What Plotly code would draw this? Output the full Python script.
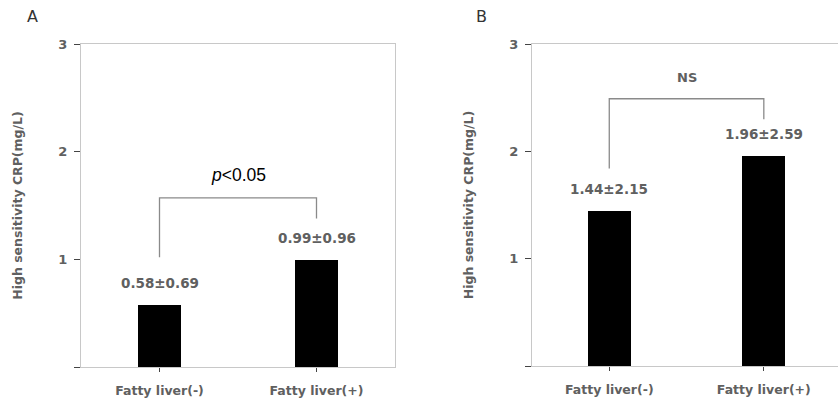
import plotly.graph_objects as go

categories = ["Fatty liver(-)", "Fatty liver(+)"]
values_a = [0.58, 0.99]
labels_a = ["0.58±0.69", "0.99±0.96"]
values_b = [1.44, 1.96]
labels_b = ["1.44±2.15", "1.96±2.59"]
bracket_a_top = 1.57
bracket_a_legs = [1.02, 1.38]
bracket_b_top = 2.49
bracket_b_legs = [1.84, 2.30]
sig_a = "<i>p</i>&lt;0.05"
sig_b = "NS"
ytitle = "High sensitivity CRP(mg/L)"
yticks = [0, 1, 2, 3]
yticktext = ["", "1", "2", "3"]

BOLD = "DejaVu Sans"
GRAY = "#606060"

fig = go.Figure()
xidx = [0, 1]

for vals, ax, ay in [(values_a, "x", "y"), (values_b, "x2", "y2")]:
    fig.add_trace(go.Bar(x=xidx, y=vals, width=0.28, marker=dict(color="black", line=dict(width=0)),
                         xaxis=ax, yaxis=ay, showlegend=False, hoverinfo="skip"))

for top, legs, ax, ay in [(bracket_a_top, bracket_a_legs, "x", "y"), (bracket_b_top, bracket_b_legs, "x2", "y2")]:
    fig.add_trace(go.Scatter(x=[0, 0, 1, 1], y=[legs[0], top, top, legs[1]], mode="lines",
                             line=dict(color="#8a8a8a", width=1.3), xaxis=ax, yaxis=ay,
                             showlegend=False, hoverinfo="skip"))

ann = []
for vals, labs, xr, yr in [(values_a, labels_a, "x", "y"), (values_b, labels_b, "x2", "y2")]:
    for i, (v, t) in enumerate(zip(vals, labs)):
        ann.append(dict(x=i, y=v, xref=xr, yref=yr, text="<b>" + t + "</b>", showarrow=False,
                        yanchor="middle", yshift=22,
                        font=dict(family=BOLD, size=13.5, color=GRAY)))
ann.append(dict(x=0.5, y=bracket_a_top, xref="x", yref="y", text=sig_a, showarrow=False, yanchor="middle",
                yshift=23, font=dict(family="Liberation Sans", size=17.5, color="black")))
ann.append(dict(x=0.5, y=bracket_b_top, xref="x2", yref="y2", text="<b>" + sig_b + "</b>", showarrow=False,
                yanchor="middle", yshift=21, font=dict(family=BOLD, size=13, color=GRAY)))
ann.append(dict(x=32 / 838, y=1 - 16 / 403, xref="paper", yref="paper", text="A", showarrow=False,
                xanchor="center", yanchor="middle", font=dict(family="DejaVu Sans", size=16, color="#333")))
ann.append(dict(x=482 / 838, y=1 - 16 / 403, xref="paper", yref="paper", text="B", showarrow=False,
                xanchor="center", yanchor="middle", font=dict(family="DejaVu Sans", size=16, color="#333")))

common_x = dict(tickvals=xidx, ticktext=["<b>" + c + "</b>" for c in categories], showline=True, mirror=True,
                linecolor="#c8c8c8", linewidth=1.3, ticks="outside", ticklen=4, tickcolor="#444",
                showgrid=False, zeroline=False, ticklabelstandoff=8, automargin=False,
                tickfont=dict(family=BOLD, size=12.5, color=GRAY))
common_y = dict(range=[0, 3], tickvals=yticks, ticktext=["<b>" + t + "</b>" if t else "" for t in yticktext],
                showline=True, mirror=True, linecolor="#c8c8c8", linewidth=1.3, ticks="outside", ticklen=6,
                tickcolor="#444", showgrid=False, zeroline=False, automargin=False, ticklabelstandoff=4,
                tickfont=dict(family=BOLD, size=13, color=GRAY),
                title=dict(text="<b>" + ytitle + "</b>", font=dict(family=BOLD, size=12.5, color=GRAY),
                           standoff=32))

fig.update_layout(
    width=838, height=403, margin=dict(l=0, r=0, t=0, b=0, autoexpand=False),
    plot_bgcolor="white", paper_bgcolor="white", bargap=0,
    xaxis=dict(domain=[81 / 838, 395 / 838], range=[-0.5, 1.5], anchor="y", **common_x),
    yaxis=dict(domain=[1 - 367 / 403, 1 - 44 / 403], anchor="x", **common_y),
    xaxis2=dict(domain=[532 / 838, 1.0], range=[-0.5, 1.48], anchor="y2", **common_x),
    yaxis2=dict(domain=[1 - 366 / 403, 1 - 44 / 403], anchor="x2", **common_y),
    annotations=ann,
)

fig.write_html("out.html", config={"displayModeBar": False},
               post_script="document.body.style.margin='0';document.body.style.overflow='hidden';")
